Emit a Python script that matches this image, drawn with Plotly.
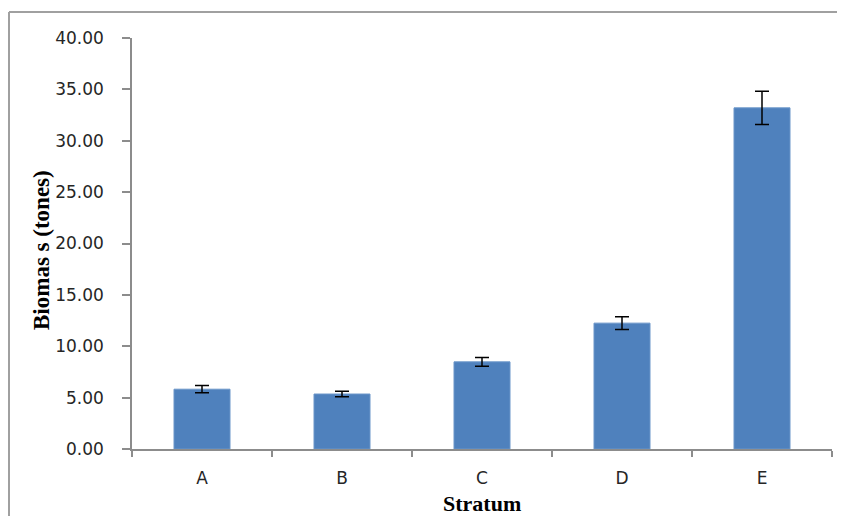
import plotly.graph_objects as go

categories = ["A", "B", "C", "D", "E"]
biomass = [5.82, 5.35, 8.48, 12.25, 33.2]
errors = [0.35, 0.26, 0.42, 0.62, 1.62]
y_ticks = [0, 5, 10, 15, 20, 25, 30, 35, 40]
y_ticklabels = [f"{v:.2f}" for v in y_ticks]

# page offset of the plot div (default body margin)
OFF = 8
W, H = 845 - OFF, 516 - OFF
# plot area in page pixels: x 132..832, y 38..449
L, R, T, B = 132 - OFF, 845 - 832, 38 - OFF, 516 - 449

fig = go.Figure()
fig.add_trace(go.Bar(
    x=categories, y=biomass,
    marker=dict(color="#4F81BD", line=dict(color="#6A95C9", width=1)),
    error_y=dict(type="data", array=errors, visible=True, color="#000000",
                 thickness=1.5, width=7),
))

axis_gray = "#8C8C8C"
tick_font = dict(family="DejaVu Sans", size=17, color="#262626")
fig.update_layout(
    width=W, height=H,
    margin=dict(l=L, r=R, t=T, b=B, pad=0),
    paper_bgcolor="white", plot_bgcolor="white",
    showlegend=False, bargap=0.6,
    font=tick_font,
    xaxis=dict(
        type="category", showline=True, linecolor=axis_gray, linewidth=1.5,
        ticks="outside", tickson="boundaries", ticklen=6, tickcolor=axis_gray,
        tickwidth=1.5, showgrid=False, zeroline=False, ticklabelstandoff=13,
        tickfont=tick_font,
    ),
    yaxis=dict(
        range=[0, 40], tickvals=y_ticks, ticktext=y_ticklabels,
        showline=True, linecolor=axis_gray, linewidth=1.5,
        ticks="outside", ticklen=8, tickcolor=axis_gray, tickwidth=1.5,
        showgrid=False, zeroline=False, ticklabelstandoff=15,
        tickfont=tick_font,
    ),
)

pw = W - L - R
ph = H - T - B
def px(x):  # page x -> paper
    return (x - OFF - L) / pw
def py(y):  # page y -> paper
    return (H - B - (y - OFF)) / ph

fig.add_annotation(text="<b>Stratum</b>", xref="paper", yref="paper",
                   x=px(482), y=py(503), xanchor="center", yanchor="middle",
                   showarrow=False,
                   font=dict(family="Liberation Serif", size=22, color="#000000"))
fig.add_annotation(text="<b>Biomas s (tones)</b>", xref="paper", yref="paper",
                   x=px(41), y=py(250), xanchor="center", yanchor="middle",
                   textangle=-90, showarrow=False,
                   font=dict(family="Liberation Serif", size=23, color="#000000"))

# outer chart border (top and left visible)
fig.add_shape(type="line", xref="paper", yref="paper",
              x0=px(9), x1=px(845), y0=py(12), y1=py(12),
              line=dict(color="#A0A0A0", width=2))
fig.add_shape(type="line", xref="paper", yref="paper",
              x0=px(9), x1=px(9), y0=py(12), y1=py(516),
              line=dict(color="#A0A0A0", width=2))

fig.write_html(
    "out.html",
    config={"displayModeBar": False},
    post_script="document.documentElement.style.overflow='hidden';"
                "document.body.style.overflow='hidden';",
)
